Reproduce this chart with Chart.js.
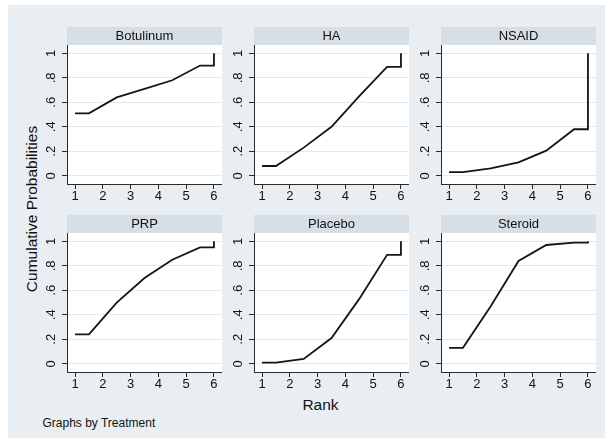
<!DOCTYPE html>
<html>
<head>
<meta charset="utf-8">
<script src="https://cdn.jsdelivr.net/npm/chart.js@4.4.1/dist/chart.umd.min.js"></script>
<style>
  html, body { margin: 0; padding: 0; background: #ffffff; }
  body { width: 605px; height: 439px; position: relative; overflow: hidden;
         font-family: "Liberation Sans", Arial, sans-serif; }
  #frame { position: absolute; left: 8px; top: 5px; width: 597px; height: 433px; background: #e9eef2; }
  canvas { position: absolute; }
  .lbl { position: absolute; color: #111111; white-space: nowrap; line-height: 1; }
</style>
</head>
<body>
<div id="frame"></div>
<div class="lbl" id="ytitle" style="left:31.5px;top:208.5px;font-size:15.5px;transform:translate(-50%,-50%) rotate(-90deg);">Cumulative Probabilities</div>
<div class="lbl" id="xtitle" style="left:320.5px;top:405px;font-size:15.5px;transform:translate(-50%,-50%);">Rank</div>
<div class="lbl" id="note" style="left:42.5px;top:422.5px;font-size:12px;transform:translateY(-50%);">Graphs by Treatment</div>

<script>
// Treatments (panel order, row by row)
const treatments = ["Botulinum", "HA", "NSAID", "PRP", "Placebo", "Steroid"];

// Rank positions of the plotted step curve
const rankX = [1, 1.5, 2.5, 3.5, 4.5, 5.5, 6, 6];

// Cumulative ranking probabilities at each rankX position
const botulinum = [0.51, 0.51, 0.64, 0.71, 0.78, 0.90, 0.90, 1.00];
const ha        = [0.08, 0.08, 0.23, 0.40, 0.65, 0.89, 0.89, 1.00];
const nsaid     = [0.03, 0.03, 0.06, 0.11, 0.205, 0.38, 0.38, 1.00];
const prp       = [0.24, 0.24, 0.50, 0.70, 0.85, 0.95, 0.95, 1.00];
const placebo   = [0.01, 0.01, 0.04, 0.21, 0.53, 0.89, 0.89, 1.00];
const steroid   = [0.13, 0.13, 0.47, 0.84, 0.97, 0.99, 0.99, 1.00];

// Axis ticks
const xTicks = [1, 2, 3, 4, 5, 6];
const yTicks = [0, 0.2, 0.4, 0.6, 0.8, 1];
const yTickLabels = ["0", ".2", ".4", ".6", ".8", "1"];

const seriesByTreatment = [botulinum, ha, nsaid, prp, placebo, steroid];

// Styling
const HEADER_H = 18;
const HEADER_BG = "#d6dfe6";
const GRID = "#e3eaee";
const AXIS = "#2a2a2a";
const TEXT = "#111111";
const FONT = '"Liberation Sans", Arial, sans-serif';

// Panel geometry: plot-region left edges per column, header tops per row
const colLeft = [67, 254, 441];
const rowTop = [27, 215];
const Y_AXIS_W = 30, X_AXIS_H = 26, PLOT_W = 155, PLOT_H = 139;

// Strip header, white plot region and rotated y tick labels
const panelDecor = {
  id: "panelDecor",
  beforeDraw(chart, args, opts) {
    const { ctx, chartArea: a } = chart;
    ctx.save();
    ctx.fillStyle = HEADER_BG;
    ctx.fillRect(a.left, a.top - HEADER_H, a.right - a.left, HEADER_H);
    ctx.fillStyle = "#ffffff";
    ctx.fillRect(a.left, a.top, a.right - a.left, a.bottom - a.top);
    ctx.fillStyle = TEXT;
    ctx.font = "13px " + FONT;
    ctx.textAlign = "center";
    ctx.textBaseline = "middle";
    ctx.fillText(opts.title, (a.left + a.right) / 2, a.top - HEADER_H / 2 + 0.5);
    ctx.restore();
  },
  afterDraw(chart) {
    const { ctx, chartArea: a } = chart;
    const ys = chart.scales.y;
    ctx.save();
    ctx.fillStyle = TEXT;
    ctx.font = "13px " + FONT;
    ctx.textAlign = "center";
    ctx.textBaseline = "middle";
    yTicks.forEach((v, i) => {
      ctx.save();
      ctx.translate(a.left - 15.5, ys.getPixelForValue(v));
      ctx.rotate(-Math.PI / 2);
      ctx.fillText(yTickLabels[i], 0, 0);
      ctx.restore();
    });
    ctx.restore();
  }
};

treatments.forEach((name, i) => {
  const col = i % 3, row = Math.floor(i / 3);
  const cv = document.createElement("canvas");
  const w = Y_AXIS_W + PLOT_W, h = HEADER_H + PLOT_H + X_AXIS_H;
  cv.width = w; cv.height = h;
  cv.style.width = w + "px"; cv.style.height = h + "px";
  cv.style.left = (colLeft[col] - Y_AXIS_W) + "px";
  cv.style.top = rowTop[row] + "px";
  document.body.appendChild(cv);

  const data = rankX.map((x, k) => ({ x: x, y: seriesByTreatment[i][k] }));

  new Chart(cv.getContext("2d"), {
    type: "line",
    data: {
      datasets: [{
        data: data,
        borderColor: "#151515",
        borderWidth: 1.8,
        pointRadius: 0,
        tension: 0,
        fill: false
      }]
    },
    options: {
      responsive: false,
      animation: false,
      events: [],
      devicePixelRatio: 1,
      layout: { padding: { top: HEADER_H, left: 0, right: 0, bottom: 0 } },
      plugins: {
        legend: { display: false },
        tooltip: { enabled: false },
        title: { display: false },
        panelDecor: { title: name }
      },
      scales: {
        x: {
          type: "linear",
          min: 0.71, max: 6.29,
          afterBuildTicks: s => { s.ticks = xTicks.map(v => ({ value: v })); },
          afterFit: s => { s.height = X_AXIS_H; },
          grid: { drawOnChartArea: false, drawTicks: true, tickLength: 5, tickColor: AXIS, tickWidth: 1 },
          border: { display: true, color: AXIS, width: 1 },
          ticks: { padding: 0, color: TEXT, font: { size: 13, family: FONT }, maxRotation: 0, callback: v => String(v) }
        },
        y: {
          type: "linear",
          min: -0.067, max: 1.068,
          afterBuildTicks: s => { s.ticks = yTicks.map(v => ({ value: v })); },
          afterFit: s => { s.width = Y_AXIS_W; },
          grid: { drawOnChartArea: true, color: GRID, lineWidth: 1, drawTicks: true, tickLength: 5, tickColor: AXIS, tickWidth: 1 },
          border: { display: true, color: AXIS, width: 1 },
          ticks: { display: false }
        }
      }
    },
    plugins: [panelDecor]
  });
});
</script>
</body>
</html>
